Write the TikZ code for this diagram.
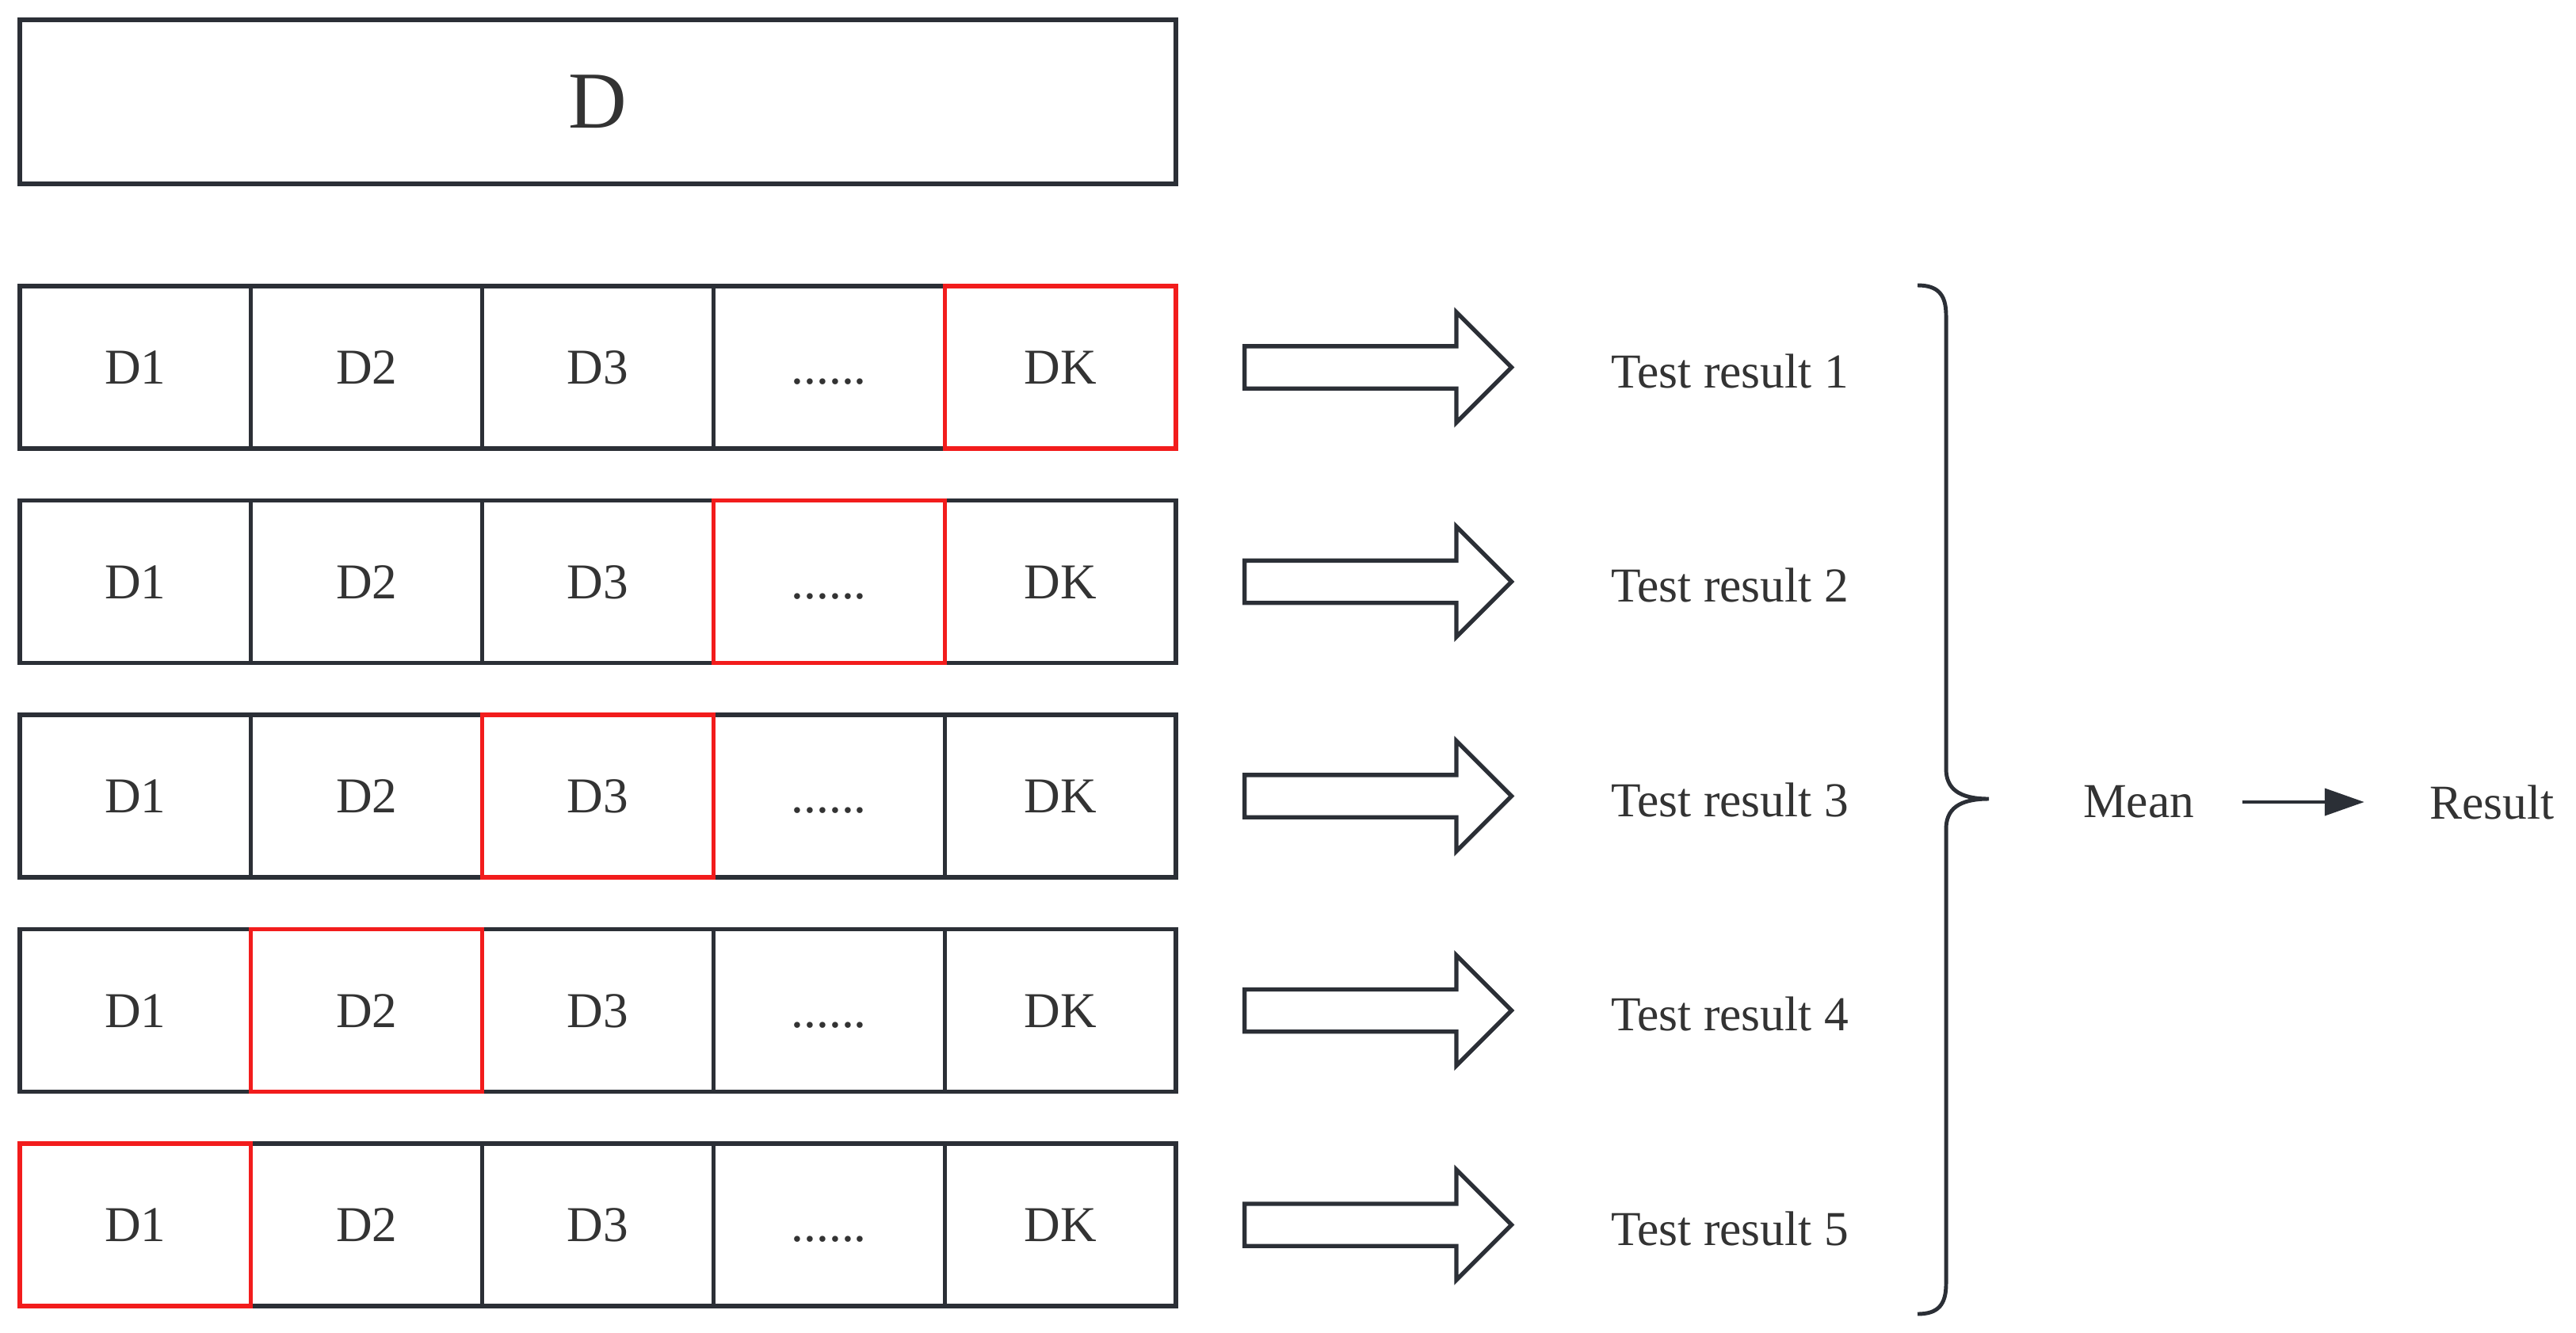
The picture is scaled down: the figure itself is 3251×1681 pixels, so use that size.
\documentclass[tikz,border=0pt]{standalone}
\usepackage{fontspec}
\setmainfont{Liberation Serif}
\usetikzlibrary{shapes.arrows,arrows.meta}
\definecolor{lne}{HTML}{2B2F36}
\definecolor{txt}{HTML}{333333}
\definecolor{hl}{HTML}{F21C1C}

\begin{document}
\begin{tikzpicture}[
        x=0.1mm, y=-0.1mm,
        cell/.style={draw=lne,line width=1.5pt,minimum width=29.18mm,minimum height=20.5mm,
            inner sep=0pt,text=txt,font=\fontsize{18}{20}\selectfont,text height=12pt,text depth=0pt},
        fold/.style={cell,draw=hl},
        whole/.style={cell,minimum width=145.9mm,minimum height=20.7mm,font=\fontsize{29}{32}\selectfont,text height=19pt},
        bigarrow/.style={single arrow,draw=lne,line width=1.5pt,fill=white,anchor=tail,
            minimum height=33.7mm,minimum width=13.4mm,inner xsep=0pt,inner ysep=2.4mm,
            single arrow head extend=4.3mm,single arrow tip angle=90},
        res/.style={inner sep=0pt,text=txt,font=\fontsize{17.5}{20}\selectfont},
        % brace and small arrow
        brc/.style={draw=lne,line width=1.4pt},
        arw/.style={draw=lne,line width=1.2pt,-{Triangle[length=5mm,width=3.4mm]}},
        ]
    \useasboundingbox (0,0) rectangle (3251,1681);
    % the whole data set
    \node[whole] (d) at (754.5,128.5) {D};
    % the five folds
    \foreach \j in {1,...,5} {
        \foreach \i/\lab in {1/D1,2/D2,3/D3,4/{......},5/DK} {
            \node[cell] (c\j\i) at ({25+291.8*(\i-0.5)},{463.5+270.5*(\j-1)}) {\lab};
        }
    }
    % test part of each fold
    \foreach \j in {1,...,5} {
        \pgfmathtruncatemacro\k{6-\j}
        \node[fold] (hl\j) at (c\j\k) {};
    }
    % arrows and results
    \foreach \j in {1,...,5} {
        \node[bigarrow] (arr\j) at (1568,{463.5+270.5*(\j-1)}) {};
        \node[res] (t\j) at (2183,{468+270.5*(\j-1)}) {Test result \j};
    }
    \draw[brc] (2420,360) .. controls (2446,360) and (2456,372) .. (2456,398)
        -- (2456,970) .. controls (2456,995) and (2472,1008) .. (2510,1008)
        .. controls (2472,1008) and (2456,1021) .. (2456,1046)
        -- (2456,1620) .. controls (2456,1646) and (2446,1658) .. (2420,1658);
    \node[res] (mean) at (2699,1012) {Mean};
    \node[res] (result) at (3145,1012) {Result};
    \draw[arw,shorten <=6mm,shorten >=8.2mm] (mean) -- (result);
\end{tikzpicture}
\end{document}
